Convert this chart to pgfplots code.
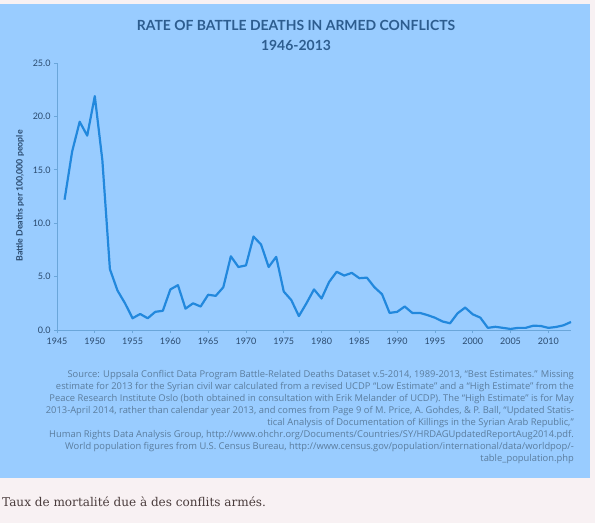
\documentclass[border=0pt]{standalone}
\usepackage{pgfplots}
\pgfplotsset{compat=1.18}
\usepackage{fontspec}
\setmainfont{Lato}
\newfontfamily\srcfont{Open Sans}
\newfontfamily\capfont{DejaVu Serif}
\definecolor{pagebg}{HTML}{F8F1F3}
\definecolor{panel}{HTML}{99CCFF}
\definecolor{linec}{HTML}{2288DD}
\definecolor{titlec}{HTML}{2D5D8F}
\definecolor{tickc}{HTML}{2A4A6E}
\definecolor{axisc}{HTML}{6AA6DA}
\definecolor{srcc}{HTML}{5B7D9E}
\definecolor{capc}{HTML}{4A3C3C}
\begin{document}
\begin{tikzpicture}
\path[use as bounding box, fill=pagebg] (0,0) rectangle (595bp,-523bp);
\fill[panel] (0,-4bp) rectangle (590bp,-478bp);
\node[font=\bfseries\fontsize{14}{16}\selectfont, text=titlec, inner sep=0] at (296bp,-25bp) {RATE OF BATTLE DEATHS IN ARMED CONFLICTS};
\node[font=\bfseries\fontsize{14}{16}\selectfont, text=titlec, inner sep=0] at (296bp,-45bp) {1946-2013};
\node[font=\bfseries\fontsize{8.8}{10}\selectfont, text=tickc, rotate=90, inner sep=0] at (20bp,-196bp) {Battle Deaths per 100,000 people};
\begin{axis}[
  at={(57bp,-330bp)}, anchor=origin,
  scale only axis, width=514bp, height=267bp,
  xmin=1945, xmax=2013, ymin=0, ymax=25,
  axis lines=left, axis line style={-, color=axisc, line width=0.8bp},
  xtick={1945,1950,...,2010}, ytick={0,5,...,25},
  tick align=outside, major tick length=3bp,
  tick style={color=axisc, line width=0.8bp},
  /pgf/number format/assume math mode=true,
  xticklabel style={/pgf/number format/1000 sep={}, font=\fontsize{9}{10}\selectfont, text=tickc, yshift=-1bp},
  yticklabel style={/pgf/number format/fixed, /pgf/number format/fixed zerofill, /pgf/number format/precision=1, font=\fontsize{9}{10}\selectfont, text=tickc},
  clip=false,
]
\addplot[color=linec, line width=2.2bp, line join=round, mark=none] coordinates {
(1946,12.2) (1947,16.7) (1948,19.5) (1949,18.2) (1950,21.9) (1951,15.9) (1952,5.7) (1953,3.7) (1954,2.5) (1955,1.1)
(1956,1.5) (1957,1.1) (1958,1.7) (1959,1.8) (1960,3.8) (1961,4.2) (1962,2.0) (1963,2.5) (1964,2.2) (1965,3.3)
(1966,3.2) (1967,4.0) (1968,6.9) (1969,5.9) (1970,6.05) (1971,8.75) (1972,8.0) (1973,5.9) (1974,6.85) (1975,3.6)
(1976,2.8) (1977,1.3) (1978,2.5) (1979,3.8) (1980,2.95) (1981,4.5) (1982,5.45) (1983,5.1) (1984,5.35) (1985,4.85)
(1986,4.9) (1987,4.0) (1988,3.35) (1989,1.6) (1990,1.7) (1991,2.2) (1992,1.6) (1993,1.6) (1994,1.4) (1995,1.15)
(1996,0.8) (1997,0.63) (1998,1.57) (1999,2.1) (2000,1.47) (2001,1.16) (2002,0.2) (2003,0.3) (2004,0.2) (2005,0.1)
(2006,0.2) (2007,0.2) (2008,0.4) (2009,0.38) (2010,0.2) (2011,0.28) (2012,0.44) (2013,0.75)
};
\end{axis}
\node[font=\srcfont\fontsize{9.4}{12}\selectfont, text=srcc, align=right, anchor=north east, inner sep=0] at (574bp,-370bp) {Source: Uppsala Conflict Data Program Battle-Related Deaths Dataset v.5-2014, 1989-2013, “Best Estimates.” Missing\\
estimate for 2013 for the Syrian civil war calculated from a revised UCDP “Low Estimate” and a “High Estimate” from the\\
Peace Research Institute Oslo (both obtained in consultation with Erik Melander of UCDP). The “High Estimate” is for May\\
2013-April 2014, rather than calendar year 2013, and comes from Page 9 of M. Price, A. Gohdes, \& P. Ball, “Updated Statis-\\
tical Analysis of Documentation of Killings in the Syrian Arab Republic,”\\
Human Rights Data Analysis Group, http://www.ohchr.org/Documents/Countries/SY/HRDAGUpdatedReportAug2014.pdf.\\
World population figures from U.S. Census Bureau, http://www.census.gov/population/international/data/worldpop/-\\
table\_population.php};
\node[font=\capfont\fontsize{12.1}{14}\selectfont, text=capc, anchor=west, inner sep=0] at (2bp,-502bp) {Taux de mortalité due à des conflits armés.};
\end{tikzpicture}
\end{document}
